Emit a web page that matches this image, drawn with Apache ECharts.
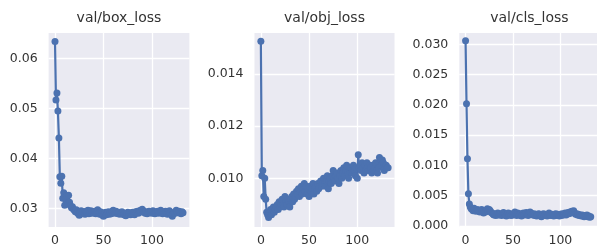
<!DOCTYPE html>
<html>
<head>
<meta charset="utf-8">
<script src="https://cdn.jsdelivr.net/npm/echarts@6/dist/echarts.min.js"></script>
<style>
html, body { margin: 0; padding: 0; background: #fff; }
#chart { width: 597px; height: 251px; }
</style>
</head>
<body>
<div id="chart"></div>
<script>
// epochs 0..132
var titles = ['val/box_loss', 'val/obj_loss', 'val/cls_loss']
var xTicks = [0, 50, 100]

var boxLoss = [
    0.0634, 0.0517, 0.0531, 0.0495, 0.0441, 0.0363, 0.0350, 0.0364, 0.0320, 0.0331,
    0.0306, 0.0318, 0.0325, 0.0309, 0.0326, 0.0312, 0.0305, 0.0301, 0.0303, 0.0298,
    0.0296, 0.0293, 0.0297, 0.0291, 0.0289, 0.0286, 0.0292, 0.0295, 0.0289, 0.0293,
    0.0290, 0.0288, 0.0294, 0.0291, 0.0296, 0.0289, 0.0292, 0.0295, 0.0290, 0.0293,
    0.0291, 0.0294, 0.0289, 0.0292, 0.0297, 0.0291, 0.0288, 0.0293, 0.0290, 0.0286,
    0.0284, 0.0289, 0.0292, 0.0287, 0.0290, 0.0293, 0.0288, 0.0291, 0.0289, 0.0294,
    0.0296, 0.0293, 0.0290, 0.0294, 0.0291, 0.0289, 0.0292, 0.0288, 0.0290, 0.0293,
    0.0291, 0.0287, 0.0289, 0.0285, 0.0290, 0.0292, 0.0288, 0.0291, 0.0287, 0.0289,
    0.0292, 0.0290, 0.0287, 0.0293, 0.0291, 0.0294, 0.0290, 0.0292, 0.0296, 0.0293,
    0.0298, 0.0295, 0.0292, 0.0290, 0.0293, 0.0289, 0.0292, 0.0294, 0.0291, 0.0293,
    0.0290, 0.0295, 0.0292, 0.0289, 0.0293, 0.0291, 0.0294, 0.0290, 0.0292, 0.0296,
    0.0293, 0.0289, 0.0292, 0.0290, 0.0294, 0.0291, 0.0288, 0.0293, 0.0295, 0.0290,
    0.0287, 0.0284, 0.0289, 0.0292, 0.0290, 0.0296, 0.0293, 0.0291, 0.0294, 0.0292,
    0.0289, 0.0293, 0.0291
]
var objLoss = [
    0.01525, 0.0101, 0.0103, 0.0093, 0.0100, 0.0092, 0.0087, 0.0086, 0.0085, 0.0087,
    0.0088, 0.0086, 0.0088, 0.0089, 0.0087, 0.0088, 0.0089, 0.0090, 0.0088, 0.0091,
    0.0089, 0.0090, 0.0092, 0.0090, 0.0089, 0.0093, 0.0091, 0.0090, 0.0092, 0.0091,
    0.0089, 0.0092, 0.0093, 0.0091, 0.0094, 0.0092, 0.0093, 0.0095, 0.0094, 0.0096,
    0.0093, 0.0095, 0.0097, 0.0094, 0.0096, 0.0098, 0.0095, 0.0097, 0.0094, 0.0096,
    0.0093, 0.0097, 0.0095, 0.0096, 0.0098, 0.0094, 0.0096, 0.0097, 0.0095, 0.0098,
    0.0096, 0.0097, 0.0099, 0.0097, 0.0098, 0.0100, 0.0098, 0.0097, 0.0099, 0.0101,
    0.0096, 0.0099, 0.0100, 0.0098, 0.0101, 0.0103, 0.0100, 0.0099, 0.0101, 0.0102,
    0.0100, 0.0098, 0.0101, 0.0103, 0.0100, 0.0102, 0.0104, 0.0101, 0.0103, 0.0105,
    0.0102, 0.0100, 0.0103, 0.0104, 0.0102, 0.0103, 0.0105, 0.0103, 0.0101, 0.0104,
    0.0100, 0.0109, 0.0104, 0.0105, 0.0103, 0.0106, 0.0104, 0.0102, 0.0105, 0.0103,
    0.0106, 0.0104, 0.0103, 0.0105, 0.0104, 0.0102, 0.0105, 0.0103, 0.0104, 0.0106,
    0.0103, 0.0102, 0.0104, 0.0108, 0.0107, 0.0105, 0.0107, 0.0106, 0.0103, 0.0104,
    0.0105, 0.0104, 0.0104
]
var clsLoss = [
    0.0306, 0.0202, 0.0111, 0.0053, 0.0036, 0.0031, 0.0028, 0.0027, 0.0025, 0.0029,
    0.0026, 0.0024, 0.0027, 0.0025, 0.0026, 0.0023, 0.0025, 0.0027, 0.0024, 0.0021,
    0.0025, 0.0023, 0.0026, 0.0028, 0.0024, 0.0027, 0.0025, 0.0022, 0.0021, 0.0019,
    0.0018, 0.0020, 0.0017, 0.0019, 0.0021, 0.0018, 0.0020, 0.0019, 0.0017, 0.0020,
    0.0022, 0.0019, 0.0018, 0.0016, 0.0019, 0.0021, 0.0018, 0.0020, 0.0017, 0.0019,
    0.0018, 0.0020, 0.0023, 0.0019, 0.0017, 0.0021, 0.0019, 0.0018, 0.0020, 0.0016,
    0.0019, 0.0021, 0.0018, 0.0020, 0.0022, 0.0019, 0.0017, 0.0020, 0.0023, 0.0021,
    0.0019, 0.0018, 0.0020, 0.0017, 0.0019, 0.0016, 0.0018, 0.0020, 0.0019, 0.0017,
    0.0015, 0.0018, 0.0020, 0.0017, 0.0019, 0.0018, 0.0016, 0.0019, 0.0021, 0.0018,
    0.0017, 0.0019, 0.0018, 0.0016, 0.0018, 0.0020, 0.0017, 0.0019, 0.0018, 0.0016,
    0.0019, 0.0017, 0.0020, 0.0018, 0.0019, 0.0021, 0.0018, 0.0020, 0.0022, 0.0020,
    0.0023, 0.0021, 0.0024, 0.0022, 0.0025, 0.0021, 0.0019, 0.0020, 0.0018, 0.0019,
    0.0017, 0.0018, 0.0016, 0.0018, 0.0017, 0.0015, 0.0017, 0.0016, 0.0018, 0.0015,
    0.0016, 0.0014, 0.0015
]
var boxTicks = [0.03, 0.04, 0.05, 0.06]
var objTicks = [0.010, 0.012, 0.014]
var clsTicks = [0.000, 0.005, 0.010, 0.015, 0.020, 0.025, 0.030]

var series = [boxLoss, objLoss, clsLoss]
var yTicks = [boxTicks, objTicks, clsTicks]
var yMin = [0.02626, 0.008133, -0.0002]
var yMax = [0.0651, 0.015571, 0.0319]
var yDigits = [2, 3, 3]
var grids = [
    { left: 48.6, top: 33, width: 140.8, height: 194 },
    { left: 254.5, top: 33, width: 140, height: 194 },
    { left: 459.3, top: 33, width: 140.3, height: 194 }
]

var textColor = '#333'
var font = 'DejaVu Sans'

var option = {
    animation: false,
    backgroundColor: '#fff',
    title: [],
    grid: [],
    xAxis: [],
    yAxis: [],
    series: []
}

for (var i = 0; i < 3; i++) {
    var g = grids[i]
    option.grid.push({ left: g.left, top: g.top, width: g.width, height: g.height, backgroundColor: '#EAEAF2', show: true, borderWidth: 0 })
    option.title.push({
        text: titles[i],
        left: g.left + g.width / 2,
        top: 11,
        textAlign: 'center',
        padding: 0,
        textStyle: { color: textColor, fontFamily: font, fontSize: 14, fontWeight: 'normal' }
    })
    option.xAxis.push({
        type: 'value',
        gridIndex: i,
        min: -6.6,
        max: 138.6,
        axisLine: { show: false },
        axisTick: { show: false, customValues: xTicks },
        axisLabel: { customValues: xTicks, color: textColor, fontFamily: font, fontSize: 12.5, margin: 7 },
        splitLine: { show: true, lineStyle: { color: '#fff', width: 1.3 } }
    })
    ;(function (d) {
        option.yAxis.push({
            type: 'value',
            gridIndex: i,
            min: yMin[i],
            max: yMax[i],
            axisLine: { show: false },
            axisTick: { show: false, customValues: yTicks[i] },
            axisLabel: {
                customValues: yTicks[i],
                color: textColor, fontFamily: font, fontSize: 12.5, margin: 11,
                formatter: function (v) { return v.toFixed(d) }
            },
            splitLine: { show: true, lineStyle: { color: '#fff', width: 1.3 } }
        })
    })(yDigits[i])
    option.series.push({
        type: 'line',
        xAxisIndex: i,
        yAxisIndex: i,
        data: series[i].map(function (v, k) { return [k, v] }),
        symbol: 'circle',
        symbolSize: 7,
        showAllSymbol: true,
        lineStyle: { color: '#4C72B0', width: 2.2 },
        itemStyle: { color: '#4C72B0' }
    })
}

var myChart = echarts.init(document.getElementById('chart'))
myChart.setOption(option)
</script>
</body>
</html>
